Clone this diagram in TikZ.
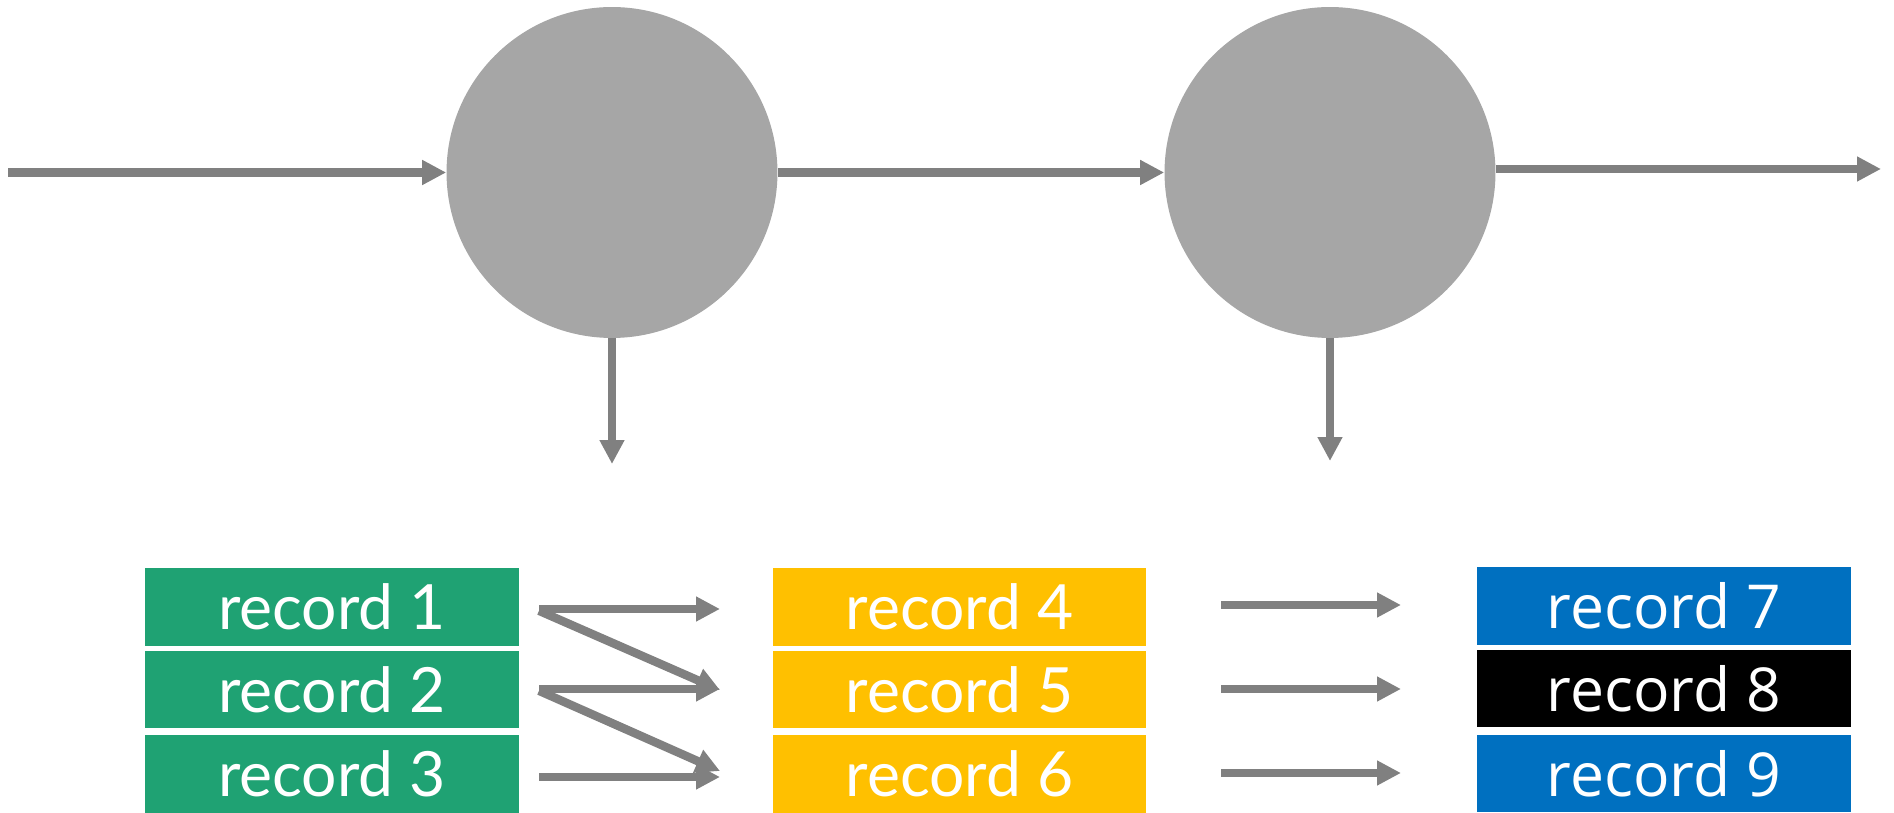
\documentclass[tikz,border=0pt]{standalone}
\usepackage{fontspec}
\usetikzlibrary{positioning}
\usetikzlibrary{arrows.meta}
\newfontfamily\gillfont{Lato}
\newfontfamily\segoefont{Open Sans}
\definecolor{recgreen}{RGB}{31,162,115}
\definecolor{recyellow}{RGB}{255,192,0}
\definecolor{recblue}{RGB}{0,112,192}
\definecolor{arrowgray}{RGB}{128,128,128}
\definecolor{nodegray}{RGB}{166,166,166}

\begin{document}
\begin{tikzpicture}[
    x=0.02cm, y=-0.02cm,
    op/.style={circle, fill=nodegray, minimum size=6.62cm, inner sep=0pt},
    rec/.style={rectangle, minimum width=7.48cm, minimum height=1.56cm, inner sep=0pt,
                text=white, font=\gillfont\fontsize{35.5}{40}\selectfont},
    recb/.style={rec, font=\segoefont\fontsize{34.5}{40}\selectfont},
    arrow/.style={-{Triangle[length=0.48cm, width=0.47cm]}, line width=0.17cm, arrowgray}
]
    \useasboundingbox (0,0) rectangle (1894,813);

    % operators
    \node[op] (op1) at (612,172.5) {};
    \node[op] (op2) at (1330,172.5) {};

    \coordinate (src) at (8,172.5);
    \coordinate (sink) at (1881,169);
    \coordinate (out1) at (612,464);
    \coordinate (out2) at (1330,461);

    \draw[arrow] (src) -- (op1.west);
    \draw[arrow] (op1.east) -- (op2.west);
    \draw[arrow] (op2.east |- sink) -- (sink);
    \draw[arrow] (op1.south) -- (out1);
    \draw[arrow] (op2.south) -- (out2);

    % records
    \node[rec, fill=recgreen] (r1) at (332,607) {record 1};
    \node[rec, fill=recgreen] (r2) at (332,689.5) {record 2};
    \node[rec, fill=recgreen] (r3) at (332,774) {record 3};

    \node[rec, fill=recyellow] (r4) at (959.5,607) {record 4};
    \node[rec, fill=recyellow] (r5) at (959.5,689.5) {record 5};
    \node[rec, fill=recyellow] (r6) at (959.5,774) {record 6};

    \node[recb, fill=recblue] (r7) at (1664,606) {record 7};
    \node[recb, fill=black] (r8) at (1664,688.5) {record 8};
    \node[recb, fill=recblue] (r9) at (1664,773.5) {record 9};

    % shuffle between the first two columns
    \coordinate (a1) at (539,609);
    \coordinate (a2) at (539,689);
    \coordinate (a3) at (539,777);
    \coordinate (b1) at (720,609);
    \coordinate (b2) at (720,689);
    \coordinate (b3) at (720,777);
    \coordinate (b2d) at (720,690);
    \coordinate (b3d) at (720,771);

    \draw[arrow] (a1) -- (b1);
    \draw[arrow] ([yshift=-1]a1) -- (b2d);
    \draw[arrow] (a2) -- (b2);
    \draw[arrow] ([yshift=-1]a2) -- (b3d);
    \draw[arrow] (a3) -- (b3);

    % one to one into the last column
    \coordinate (c1) at (1221,605);
    \coordinate (c2) at (1221,689);
    \coordinate (c3) at (1221,773);
    \coordinate (d1) at (1401,605);
    \coordinate (d2) at (1401,689);
    \coordinate (d3) at (1401,773);

    \draw[arrow] (c1) -- (d1);
    \draw[arrow] (c2) -- (d2);
    \draw[arrow] (c3) -- (d3);
\end{tikzpicture}
\end{document}
